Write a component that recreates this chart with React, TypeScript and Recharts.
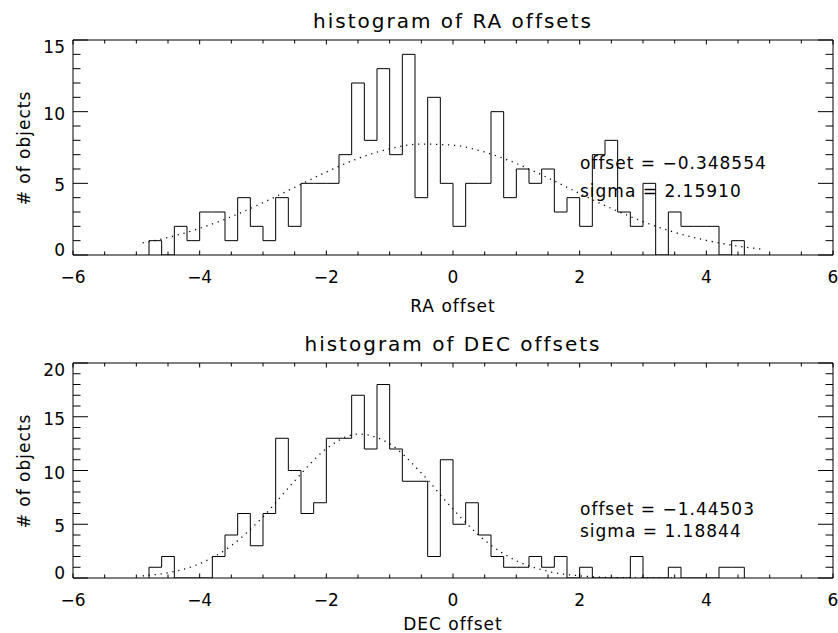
import React from "react";
import { LineChart, Line, XAxis, YAxis } from "recharts";

// bin start edges (bin width 0.2)
const binEdges = [
  -4.8, -4.6, -4.4, -4.2, -4.0, -3.8, -3.6, -3.4, -3.2, -3.0, -2.8, -2.6, -2.4, -2.2, -2.0, -1.8,
  -1.6, -1.4, -1.2, -1.0, -0.8, -0.6, -0.4, -0.2, 0.0, 0.2, 0.4, 0.6, 0.8, 1.0, 1.2, 1.4, 1.6, 1.8,
  2.0, 2.2, 2.4, 2.6, 2.8, 3.0, 3.2, 3.4, 3.6, 3.8, 4.0, 4.2, 4.4,
];
const binWidth = 0.2;

const raCounts = [
  1, 0, 2, 1, 3, 3, 1, 4, 2, 1, 4, 2, 5, 5, 5, 7, 12, 8, 13, 7, 14, 4, 11, 5, 2, 5, 5, 10, 4, 6,
  5, 6, 3, 4, 2, 7, 8, 3, 2, 5, 0, 3, 2, 2, 2, 0, 1,
];
const decCounts = [
  1, 2, 0, 0, 0, 2, 4, 6, 3, 6, 13, 10, 6, 7, 13, 13, 17, 12, 18, 12, 9, 9, 2, 11, 5, 7, 4, 2, 1, 1,
  2, 1, 2, 0, 1, 0, 0, 0, 2, 0, 0, 1, 0, 0, 0, 1, 1,
];

// dotted fit curves
const raFitX = [-4.9, -4.5, -4.0, -3.5, -3.0, -2.5, -2.0, -1.5, -1.0, -0.5, 0, 0.5, 1.0, 1.5, 2.0, 2.5, 3.0, 3.5, 4.0, 4.5, 4.9];
const raFitY = [0.84, 1.22, 1.86, 2.67, 3.65, 4.72, 5.79, 6.73, 7.41, 7.74, 7.66, 7.18, 6.39, 5.38, 4.29, 3.25, 2.33, 1.58, 1.02, 0.62, 0.4];
const decFitX = [-4.9, -4.5, -4.0, -3.5, -3.0, -2.5, -2.0, -1.5, -1.0, -0.5, 0, 0.5, 1.0, 1.5, 2.0, 2.5, 3.0, 3.5];
const decFitY = [0.2, 0.49, 1.33, 3.01, 5.69, 9.04, 12.02, 13.39, 12.49, 9.77, 6.4, 3.51, 1.61, 0.62, 0.2, 0.05, 0.01, 0];

const xTicks = [-6, -5.5, -5, -4.5, -4, -3.5, -3, -2.5, -2, -1.5, -1, -0.5, 0, 0.5, 1, 1.5, 2, 2.5, 3, 3.5, 4, 4.5, 5, 5.5, 6];
const raYTicks = [0, 1, 2, 3, 4, 5, 6, 7, 8, 9, 10, 11, 12, 13, 14, 15];
const decYTicks = [0, 1, 2, 3, 4, 5, 6, 7, 8, 9, 10, 11, 12, 13, 14, 15, 16, 17, 18, 19, 20];

const FONT = "DejaVu Sans";

const toSteps = (counts: number[]) => [
  { x: binEdges[0], y: 0 },
  ...binEdges.map((e, i) => ({ x: e, y: counts[i] })),
  { x: +(binEdges[binEdges.length - 1] + binWidth).toFixed(1), y: 0 },
];
const toLine = (xs: number[], ys: number[]) => xs.map((x, i) => ({ x, y: ys[i] }));

const fmt = (v: number) => String(v).replace("-", "\u2212");

const XTick = (props: any) => {
  const { x, y, payload, side } = props;
  const v = payload.value;
  const major = Math.abs(v % 2) < 1e-9;
  const len = major ? 4.5 : 3.5;
  const dir = side === "bottom" ? -1 : 1;
  return (
    <g>
      <line x1={x} y1={y} x2={x} y2={y + dir * len} stroke="#000" />
      {side === "bottom" && major && (
        <text x={x} y={y + 28} textAnchor="middle" fontFamily={FONT} fontSize={17} fill="#000">
          {fmt(v)}
        </text>
      )}
    </g>
  );
};

const YTick = (props: any) => {
  const { x, y, payload, side, max } = props;
  const v = payload.value;
  const major = v % 5 === 0;
  const len = major ? 15 : 7.5;
  const dir = side === "left" ? 1 : -1;
  const shift = v === max ? 7 : v === 0 ? -5 : 2;
  return (
    <g>
      <line x1={x} y1={y} x2={x + dir * len} y2={y} stroke="#000" />
      {side === "left" && major && (
        <text x={x - 8} y={y + shift + 6} textAnchor="end" fontFamily={FONT} fontSize={17} fill="#000">
          {v}
        </text>
      )}
    </g>
  );
};

const Panel = ({ counts, fit, yTicks, yMax }: { counts: number[]; fit: { x: number; y: number }[]; yTicks: number[]; yMax: number }) => (
  <LineChart width={838} height={316} margin={{ top: 39, right: 4, bottom: 0, left: 0 }}>
    <XAxis
      dataKey="x"
      type="number"
      domain={[-6, 6]}
      ticks={xTicks}
      interval={0}
      height={61}
      tickSize={0}
      tickMargin={0}
      tickLine={false}
      axisLine={{ stroke: "#000" }}
      tick={(p: any) => <XTick {...p} side="bottom" />}
      allowDataOverflow
    />
    <XAxis
      xAxisId="t"
      orientation="top"
      dataKey="x"
      type="number"
      domain={[-6, 6]}
      ticks={xTicks}
      interval={0}
      height={1}
      tickSize={0}
      tickMargin={0}
      tickLine={false}
      axisLine={{ stroke: "#000" }}
      tick={(p: any) => <XTick {...p} side="top" />}
      allowDataOverflow
    />
    <YAxis
      type="number"
      domain={[0, yMax]}
      ticks={yTicks}
      interval={0}
      width={73}
      tickSize={0}
      tickMargin={0}
      tickLine={false}
      axisLine={{ stroke: "#000" }}
      tick={(p: any) => <YTick {...p} side="left" max={yMax} />}
      allowDataOverflow
    />
    <YAxis
      yAxisId="r"
      orientation="right"
      type="number"
      domain={[0, yMax]}
      ticks={yTicks}
      interval={0}
      width={1}
      tickSize={0}
      tickMargin={0}
      tickLine={false}
      axisLine={{ stroke: "#000" }}
      tick={(p: any) => <YTick {...p} side="right" max={yMax} />}
      allowDataOverflow
    />
    <Line
      data={toSteps(counts)}
      dataKey="y"
      type="stepAfter"
      stroke="#000"
      strokeWidth={1}
      dot={false}
      isAnimationActive={false}
    />
    {/* fit curve is bound to the top/right axes (same domains) so they get drawn */}
    <Line
      data={fit}
      dataKey="y"
      xAxisId="t"
      yAxisId="r"
      type="monotone"
      stroke="#000"
      strokeWidth={1.3}
      strokeDasharray="1.2 4.8"
      dot={false}
      isAnimationActive={false}
    />
  </LineChart>
);

const textStyle = { fontFamily: FONT, fill: "#000" };

export default function App() {
  return (
    <div style={{ position: "absolute", left: 0, top: 0, width: 838, height: 633, background: "#fff" }}>
      <div style={{ position: "absolute", left: 0, top: 0 }}>
        <Panel counts={raCounts} fit={toLine(raFitX, raFitY)} yTicks={raYTicks} yMax={15} />
      </div>
      <div style={{ position: "absolute", left: 0, top: 323 }}>
        <Panel counts={decCounts} fit={toLine(decFitX, decFitY)} yTicks={decYTicks} yMax={20} />
      </div>
      <svg width={838} height={633} style={{ position: "absolute", left: 0, top: 0, pointerEvents: "none" }}>
        <text x={453} y={28} textAnchor="middle" fontSize={20} letterSpacing={2} {...textStyle}>
          histogram of RA offsets
        </text>
        <text x={453} y={312} textAnchor="middle" fontSize={17} letterSpacing={1} {...textStyle}>
          RA offset
        </text>
        <text x={30} y={148} textAnchor="middle" fontSize={17} letterSpacing={1} transform="rotate(-90 30 148)" {...textStyle}>
          # of objects
        </text>
        <text x={580} y={169} fontSize={17} letterSpacing={1} {...textStyle}>
          offset = {"\u2212"}0.348554
        </text>
        <text x={580} y={197} fontSize={17} letterSpacing={1} {...textStyle}>
          sigma = 2.15910
        </text>

        <text x={453} y={351} textAnchor="middle" fontSize={20} letterSpacing={2} {...textStyle}>
          histogram of DEC offsets
        </text>
        <text x={453} y={630} textAnchor="middle" fontSize={17} letterSpacing={1} {...textStyle}>
          DEC offset
        </text>
        <text x={30} y={471} textAnchor="middle" fontSize={17} letterSpacing={1} transform="rotate(-90 30 471)" {...textStyle}>
          # of objects
        </text>
        <text x={580} y={515} fontSize={17} letterSpacing={1} {...textStyle}>
          offset = {"\u2212"}1.44503
        </text>
        <text x={580} y={537} fontSize={17} letterSpacing={1} {...textStyle}>
          sigma = 1.18844
        </text>
      </svg>
    </div>
  );
}
